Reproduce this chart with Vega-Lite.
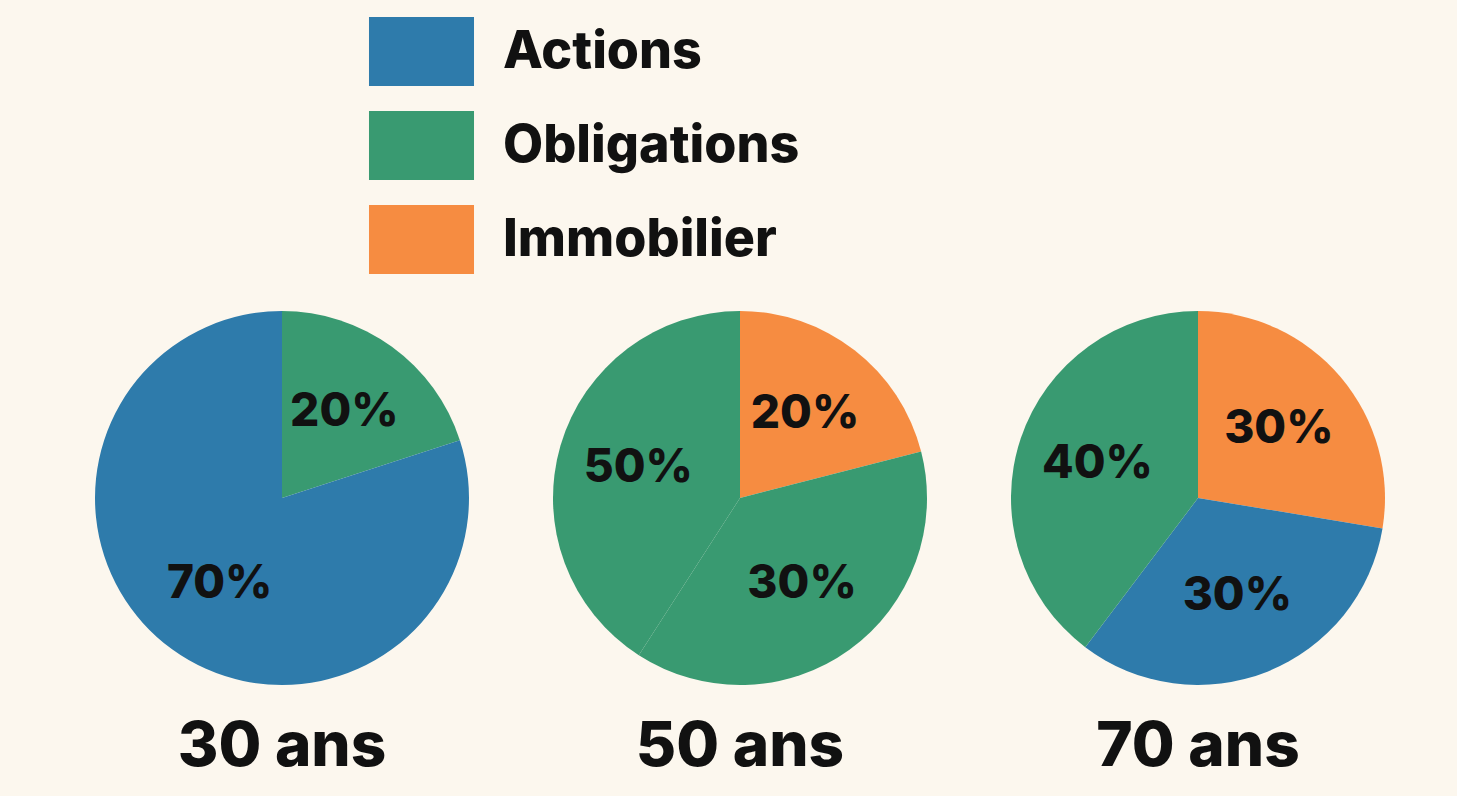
{
  "$schema": "https://vega.github.io/schema/vega-lite/v6.json",
  "background": "#fcf7ee",
  "padding": {"left": 53, "top": 17, "right": 30, "bottom": 20},
  "config": {
    "view": {"stroke": null},
    "font": "Inter"
  },
  "data": {
    "values": [
      {"age": "30 ans", "classe": "Obligations", "part": 20, "etiquette": "20%", "ordre": 1},
      {"age": "30 ans", "classe": "Actions", "part": 80, "etiquette": "70%", "ordre": 2},
      {"age": "50 ans", "classe": "Immobilier", "part": 21, "etiquette": "20%", "ordre": 1},
      {"age": "50 ans", "classe": "Obligations", "part": 38.1, "etiquette": "30%", "ordre": 2},
      {"age": "50 ans", "classe": "Obligations", "part": 40.9, "etiquette": "50%", "ordre": 3},
      {"age": "70 ans", "classe": "Immobilier", "part": 27.6, "etiquette": "30%", "ordre": 1},
      {"age": "70 ans", "classe": "Actions", "part": 32.7, "etiquette": "30%", "ordre": 2},
      {"age": "70 ans", "classe": "Obligations", "part": 39.7, "etiquette": "40%", "ordre": 3}
    ]
  },
  "facet": {
    "column": {
      "field": "age",
      "type": "nominal",
      "title": null,
      "header": {
        "labelOrient": "bottom",
        "labelFont": "Inter",
        "labelFontSize": 62,
        "labelFontWeight": 800,
        "labelColor": "#111111",
        "labelBaseline": "alphabetic",
        "labelPadding": 78
      }
    }
  },
  "spacing": 0,
  "spec": {
    "width": 458,
    "height": 380,
    "encoding": {
      "theta": {"field": "part", "type": "quantitative", "stack": true},
      "order": {"field": "ordre", "type": "quantitative"}
    },
    "layer": [
      {
        "mark": {"type": "arc", "outerRadius": 187},
        "encoding": {
          "color": {
            "field": "classe",
            "type": "nominal",
            "scale": {
              "domain": ["Actions", "Obligations", "Immobilier"],
              "range": ["#2e7bab", "#399a71", "#f68c41"]
            },
            "legend": {
              "title": null,
              "orient": "none",
              "legendX": 334,
              "legendY": -291,
              "direction": "vertical",
              "padding": 0,
              "symbolType": "M-1.522,-1H1.522V1H-1.522Z",
              "symbolSize": 4761,
              "symbolStrokeWidth": 0,
              "symbolOpacity": 1,
              "rowPadding": 25,
              "labelOffset": 47,
              "labelFont": "Inter",
              "labelFontSize": 52,
              "labelFontWeight": 800,
              "labelColor": "#111111",
              "labelLimit": 0
            }
          }
        }
      },
      {
        "mark": {
          "type": "text",
          "radius": 106,
          "font": "Inter",
          "fontSize": 46,
          "fontWeight": 800,
          "color": "#111111"
        },
        "encoding": {
          "text": {"field": "etiquette", "type": "nominal"}
        }
      }
    ]
  }
}
